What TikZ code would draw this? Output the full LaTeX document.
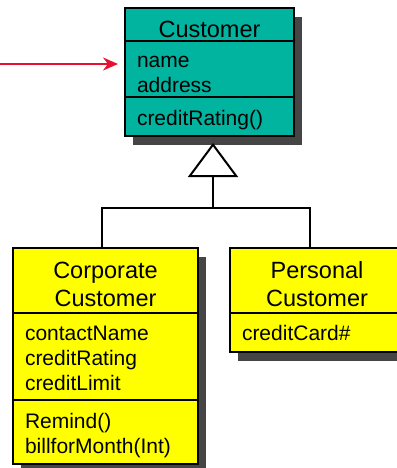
\documentclass[tikz,border=0pt]{standalone}
\usepackage{fontspec}
\setmainfont{Liberation Sans}
\usepackage{xcolor}
\usepackage{tikz}
\usetikzlibrary{arrows.meta,calc,positioning,shadows}
\definecolor{custteal}{RGB}{0,180,160}
\definecolor{subyellow}{RGB}{255,255,0}
\definecolor{linkred}{RGB}{232,16,48}

\begin{document}
\begin{tikzpicture}[x=1pt,y=-1pt,>=Stealth,line join=miter,
  classpart/.style={draw,line width=2pt,inner xsep=12pt,inner ysep=0pt,outer sep=0pt,
    general shadow={fill=black!73,shadow xshift=8pt,shadow yshift=-9pt}},
  compart/.style 2 args={text height=#1,text depth=#2},
  titlepart/.style={classpart,align=center,font=\fontsize{23.5}{28.5}\selectfont},
  memberpart/.style={classpart,align=left,font=\fontsize{21}{25}\selectfont},
  custcls/.style={fill=custteal,text width=145pt},
  corpcls/.style={fill=subyellow,text width=161pt},
  perscls/.style={fill=subyellow,text width=150pt},
  genline/.style={line width=2pt},
  linkarrow/.style={-{Stealth[length=15pt,width=13pt,inset=5pt]},line width=2pt,linkred}]
  \useasboundingbox (0,0) rectangle (396,468);
  % superclass
  \node[titlepart,custcls,compart={29.5pt}{3.5pt},anchor=north west] (CustName) at (125,8) {Customer};
  \node[memberpart,custcls,compart={27pt}{29pt},below=0pt of CustName] (CustAttr) {name\\address};
  \node[memberpart,custcls,compart={28pt}{11pt},below=0pt of CustAttr] (CustOps) {creditRating()};
  % subclasses
  \node[titlepart,corpcls,compart={30pt}{35pt},anchor=north west] (CorpName) at (13,248) {Corporate\\Customer};
  \node[memberpart,corpcls,compart={27pt}{60pt},below=0pt of CorpName] (CorpAttr) {contactName\\creditRating\\creditLimit};
  \node[memberpart,corpcls,compart={28pt}{36pt},below=0pt of CorpAttr] (CorpOps) {Remind()\\billforMonth(Int)};
  \node[titlepart,perscls,compart={30pt}{35pt},anchor=north west] (PersName) at (230,248) {Personal\\Customer};
  \node[memberpart,perscls,compart={27pt}{12pt},below=0pt of PersName] (PersAttr) {creditCard\#};
  % generalization
  \coordinate (GenJoin) at (213,208);
  \coordinate (GenTip) at (213,143);
  \draw[genline] ([xshift=-4pt]CorpName.north) |- (GenJoin) -| ([xshift=-7pt]PersName.north);
  \draw[genline,-{Triangle[open,fill=white,length=34pt,width=50pt]}] (GenJoin) -- (GenTip);
  % pointer
  \coordinate (LinkStart) at (0,64);
  \coordinate (LinkEnd) at (118,64);
  \draw[linkarrow] (LinkStart) -- (LinkEnd);
\end{tikzpicture}
\end{document}
